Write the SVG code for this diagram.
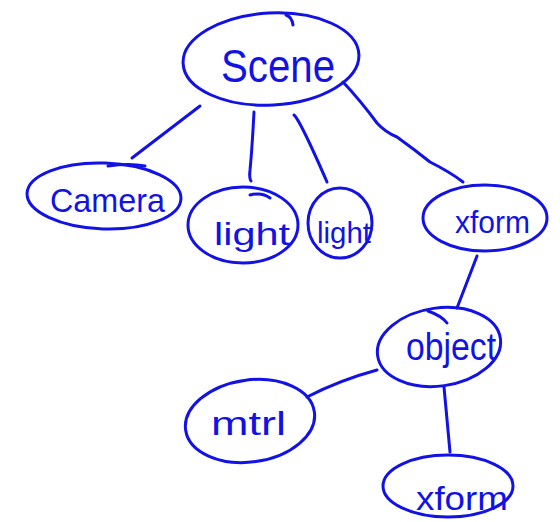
<svg xmlns="http://www.w3.org/2000/svg" width="560" height="522" viewBox="0 0 560 522">
<style>
.n{fill:none;stroke:#1212e6;stroke-width:3;stroke-linecap:round;stroke-linejoin:round}
.c{fill:none;stroke:#1212e6;stroke-width:3;stroke-linecap:round;stroke-linejoin:round}
.t{fill:#1212e6;font-family:"Liberation Sans","DejaVu Sans",sans-serif}
</style>
<rect width="560" height="522" fill="#ffffff"/>
<g id="connectors">
<path class="c" d="M200,106 L132,158"/>
<path class="c" d="M254,112 Q252,150 250,170 Q249,178 251,181"/>
<path class="c" d="M294,115 Q300,120 327,182"/>
<path class="c" d="M343,82 Q360,100 377,123 Q385,132 397,137 Q415,150 430,162 Q450,172 463,182"/>
<path class="c" d="M477,256 L457,308"/>
<path class="c" d="M377,370 Q340,380 307,397"/>
<path class="c" d="M444,387 L450,452"/>
</g>
<g id="scene">
<ellipse class="n" cx="271" cy="59" rx="88" ry="46" transform="rotate(-3 271 59)"/>
<path class="n" d="M286,15 Q292,17 293,25"/>
<text class="t" x="221" y="82" font-size="46" textLength="114" lengthAdjust="spacingAndGlyphs">Scene</text>
</g>
<g id="camera">
<ellipse class="n" cx="104" cy="196" rx="77" ry="33" transform="rotate(2 104 196)"/>
<path class="n" d="M108,166 Q130,163 145,166"/>
<text class="t" x="50" y="212" font-size="34" textLength="115" lengthAdjust="spacingAndGlyphs">Camera</text>
</g>
<g id="light1">
<ellipse class="n" cx="243" cy="225" rx="55" ry="38"/>
<path class="n" d="M250,195 Q262,192 270,198"/>
<text class="t" x="214" y="245" font-size="32" textLength="76" lengthAdjust="spacingAndGlyphs">light</text>
</g>
<g id="light2">
<ellipse class="n" cx="340" cy="223" rx="32" ry="35"/>
<text class="t" x="317" y="243" font-size="30" textLength="54" lengthAdjust="spacingAndGlyphs">light</text>
</g>
<g id="xform1">
<ellipse class="n" cx="485" cy="218" rx="62" ry="33"/>
<text class="t" x="455" y="233" font-size="32" textLength="75" lengthAdjust="spacingAndGlyphs">xform</text>
</g>
<g id="object">
<ellipse class="n" cx="439" cy="347" rx="62" ry="39" transform="rotate(-8 439 347)"/>
<path class="n" d="M428,311 Q442,316 447,323"/>
<text class="t" x="406" y="360" font-size="38" textLength="90" lengthAdjust="spacingAndGlyphs">object</text>
</g>
<g id="mtrl">
<ellipse class="n" cx="250" cy="421" rx="65" ry="41" transform="rotate(-8 250 421)"/>
<text class="t" x="211" y="435" font-size="34" textLength="75" lengthAdjust="spacingAndGlyphs">mtrl</text>
</g>
<g id="xform2">
<ellipse class="n" cx="448" cy="486" rx="65" ry="31"/>
<text class="t" x="416" y="510" font-size="34" textLength="92" lengthAdjust="spacingAndGlyphs">xform</text>
</g>
</svg>
